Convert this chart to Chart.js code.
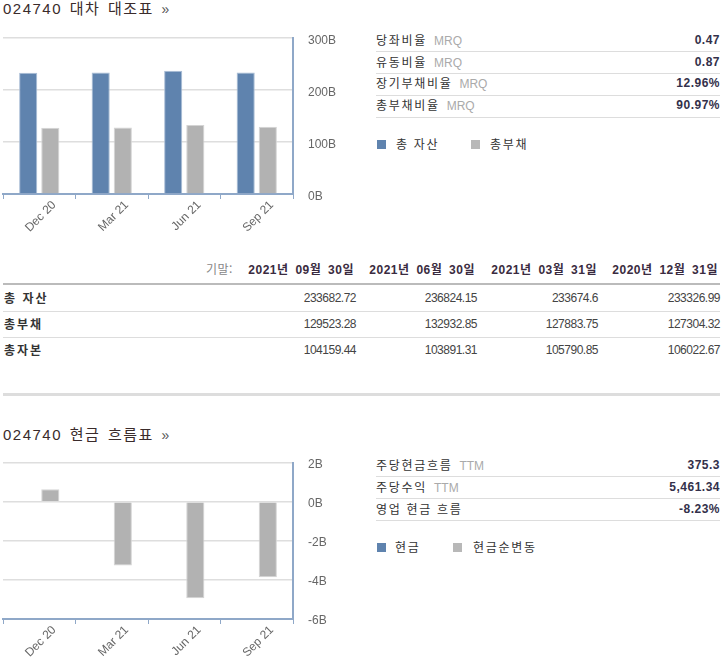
<!DOCTYPE html>
<html lang="ko"><head><meta charset="utf-8">
<script src="https://cdn.jsdelivr.net/npm/chart.js@4"></script>
<style>
html,body{margin:0;padding:0;background:#fff;width:726px;height:661px;overflow:hidden}
body{position:relative;font-family:"Liberation Sans","Noto Sans CJK KR",sans-serif;color:#333}
.a{position:absolute;white-space:nowrap;line-height:16px}
.title{font-size:15px;letter-spacing:1.5px;word-spacing:2px;color:#3a2b2b;font-family:"Liberation Sans","Noto Sans CJK KR"}
.title span{color:#555;font-size:14px;letter-spacing:0}
.k{font-size:12px;letter-spacing:1.7px;color:#333;font-family:"Noto Sans CJK KR"}
.k i{font-style:normal;font-family:"Liberation Sans";color:#aaa;letter-spacing:0;margin-left:7px;font-size:12px}
.v{font-size:12px;font-weight:bold;color:#33304a;text-align:right;letter-spacing:.5px;font-family:"Liberation Sans"}
.hl{position:absolute;background:#ddd;height:1px}
.sq{position:absolute;width:9px;height:9px}
.h{font-size:12px;font-weight:bold;color:#3a2b40;text-align:right;letter-spacing:.5px;word-spacing:3px;font-family:"Liberation Sans","Noto Sans CJK KR"}
.rl{font-size:12px;font-weight:bold;color:#333;letter-spacing:2px;font-family:"Noto Sans CJK KR"}
.n{font-size:12px;color:#444;text-align:right;font-family:"Liberation Sans";letter-spacing:-.5px}
canvas{position:absolute}
</style></head><body>
<canvas id="c1" width="345" height="215" style="left:0;top:30px;width:345px;height:215px"></canvas>
<canvas id="c2" width="345" height="215" style="left:0;top:446px;width:345px;height:215px"></canvas>
<script>
const periods = ["Dec 20","Mar 21","Jun 21","Sep 21"];
const totalAssets = [233.33,233.67,236.82,233.68];
const totalLiabilities = [127.30,127.88,132.93,129.52];
const cash = [null,null,null,null];
const netCashChange = [0.63,-3.26,-4.94,-3.87];
const balanceTicks = [0,100,200,300];
const cashTicks = [-6,-4,-2,0,2];

const balanceStats = [["당좌비율","MRQ","0.47"],["유동비율","MRQ","0.87"],["장기부채비율","MRQ","12.96%"],["총부채비율","MRQ","90.97%"]];
const cashStats = [["주당현금흐름","TTM","375.3"],["주당수익","TTM","5,461.34"],["영업 현금 흐름","","-8.23%"]];
const tableHeaders = ["2021년 09월 30일","2021년 06월 30일","2021년 03월 31일","2020년 12월 31일"];
const tableRows = [
 ["총 자산","233682.72","236824.15","233674.6","233326.99"],
 ["총부채","129523.28","132932.85","127883.75","127304.32"],
 ["총자본","104159.44","103891.31","105790.85","106022.67"]];

function add(cls,x,y,html,w){const d=document.createElement('div');d.className='a '+cls;
 d.style.top=(y-8)+'px';
 if(w!==undefined){d.style.left=(x-w)+'px';d.style.width=w+'px';}else d.style.left=x+'px';
 d.innerHTML=html;document.body.appendChild(d);return d;}
function line(x,y,w,h,c){const d=document.createElement('div');d.className='hl';
 d.style.cssText+=`left:${x}px;top:${y}px;width:${w}px;height:${h}px;background:${c}`;document.body.appendChild(d);}
function sq(x,y,c){const d=document.createElement('div');d.className='sq';d.style.cssText+=`left:${x}px;top:${y}px;background:${c}`;document.body.appendChild(d);}
function stats(rows,ys,ls){rows.forEach((r,i)=>{
 add('k',376,ys[i],r[0]+(r[1]?`<i>${r[1]}</i>`:''));
 add('v',720,ys[i],r[2],120);
 line(376,ls[i],344,1,'#ddd');});}

add('title',3,9,'024740 대차 대조표 <span>»</span>');
add('title',3,435,'024740 현금 흐름표 <span>»</span>');
stats(balanceStats,[40,62,83,105],[51,73,95,117]);
stats(cashStats,[465,487,509],[476,498,520]);
sq(377,140,'#5f83ae');add('k',396,144,'총 자산');
sq(471,140,'#b8b8b8');add('k',490,144,'총부채');
sq(377,543,'#5f83ae');add('k',395,547,'현금');
sq(453,543,'#b8b8b8');add('k',473,547,'현금순변동');

add('n',206,269,'<span style="color:#888;font-family:\'Noto Sans CJK KR\';letter-spacing:.5px">기말:</span>');
const colRight=[354,475,597,718], numRight=[356,477,598,720];
tableHeaders.forEach((h,i)=>add('h',colRight[i],270,h,125));
line(3,283,717,2,'#bbb');
const rowY=[298,324,350];
tableRows.forEach((r,i)=>{
 add('rl',4,rowY[i],r[0]);
 r.slice(1).forEach((v,j)=>add('n',numRight[j],rowY[i],v,100));
 if(i<2)line(3,rowY[i]+13,717,1,'#ddd');
});
line(3,393,717,3,'#ddd');

function makeChart(id,data1,data2,ticks,min,max,top,xHeight,yLabelShift){
 return new Chart(document.getElementById(id),{
  type:'bar',
  data:{labels:periods,datasets:[
   {data:data1,backgroundColor:'#5f83ae',borderColor:'#a9bdd6',borderWidth:1,categoryPercentage:.61,barPercentage:.82},
   {data:data2,backgroundColor:'#b2b2b2',borderColor:'#d4d4d4',borderWidth:1,categoryPercentage:.61,barPercentage:.82}]},
  options:{responsive:false,animation:false,devicePixelRatio:1,
   layout:{padding:{left:3,top:top,right:0,bottom:0}},
   plugins:{legend:{display:false},tooltip:{enabled:false}},
   scales:{
    x:{grid:{drawOnChartArea:false,drawTicks:true,tickLength:5,color:'#8fa8c8',offset:true},
       border:{color:'#8fa8c8',width:2},
       afterFit(s){s.height=xHeight;s.paddingLeft=0;s.paddingRight=0;},
       ticks:{color:'#666',font:{family:'Liberation Sans',size:12},maxRotation:45,minRotation:45,autoSkip:false,labelOffset:15,padding:-1}},
    y:{position:'right',min,max,
       afterBuildTicks(s){s.ticks=ticks.map(v=>({value:v}));},
       afterFit(s){s.width=52;s.paddingTop=0;s.paddingBottom=0;},
       grid:{color:'#dedede',lineWidth:1.5,drawTicks:false},
       border:{color:'#8fa8c8',width:2},
       ticks:{color:'#666',padding:15,maxRotation:0,minRotation:0,labelOffset:yLabelShift,font:{family:'Liberation Sans',size:12},callback:v=>v+'B'}}
   }}});
}
makeChart('c1',totalAssets,totalLiabilities,balanceTicks,0,300,8,51,3);
makeChart('c2',cash,netCashChange,cashTicks,-6,2,16.5,42,2);
</script></body></html>
